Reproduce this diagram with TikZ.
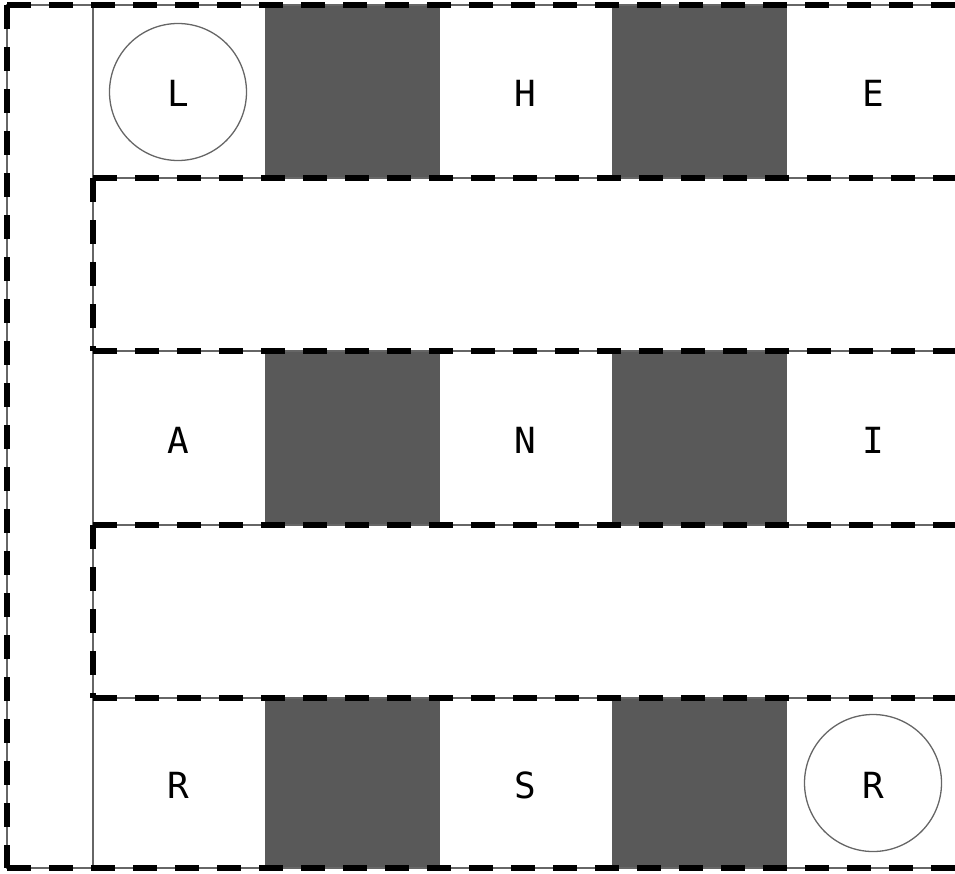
\documentclass[tikz,border=0pt]{standalone}
\usepackage{fontspec}
\setmonofont{DejaVu Sans Mono}
\begin{document}
\begin{tikzpicture}[x=1pt,y=-1pt,
  darkcell/.style={fill=darkgray!85!black, draw=none},
  thinline/.style={draw=black!60, line width=1.3pt},
  wall/.style={draw=black, line width=6pt, dash pattern=on 24pt off 18pt},
  token/.style={circle, draw=black!60, line width=1.3pt, minimum size=137pt, inner sep=0pt},
  lbl/.style={font=\ttfamily\fontsize{36}{40}\selectfont, inner sep=0pt}]
\useasboundingbox (0,0) rectangle (955,873);
\begin{scope}
\clip (0,0) rectangle (955,873);
% dark columns
\foreach \ya/\yb in {5/178, 351/525, 698/868}{
  \fill[darkcell, fill=black!65] (265,\ya) rectangle (440,\yb);
  \fill[darkcell, fill=black!65] (612,\ya) rectangle (787,\yb);
}
% thin grid lines
\draw[thinline] (965,5) -- (7,5) -- (7,868) -- (965,868);
\draw[thinline] (93,5) -- (93,868);
\foreach \y in {178,351,525,698}{
  \draw[thinline] (93,\y) -- (965,\y);
}
% dashed walls
\draw[wall] (7,5) -- (965,5);
\draw[wall] (7,5) -- (7,868);
\draw[wall] (7,868) -- (965,868);
\foreach \ya/\yb in {178/351, 525/698}{
  \draw[wall] (93,\ya) -- (965,\ya);
  \draw[wall] (93,\ya) -- (93,\yb);
  \draw[wall] (93,\yb) -- (965,\yb);
}
\end{scope}
% tokens
\node[token] (c1) at (178,92) {};
\node[token] (c2) at (873,783) {};
% letters
\node[lbl] (l1) at (178,93) {L};
\node[lbl] (h1) at (525,93) {H};
\node[lbl] (e1) at (873,93) {E};
\node[lbl] (a1) at (178,440) {A};
\node[lbl] (n1) at (525,440) {N};
\node[lbl] (i1) at (873,440) {I};
\node[lbl] (r1) at (178,785) {R};
\node[lbl] (s1) at (525,785) {S};
\node[lbl] (r2) at (873,785) {R};
\end{tikzpicture}
\end{document}
